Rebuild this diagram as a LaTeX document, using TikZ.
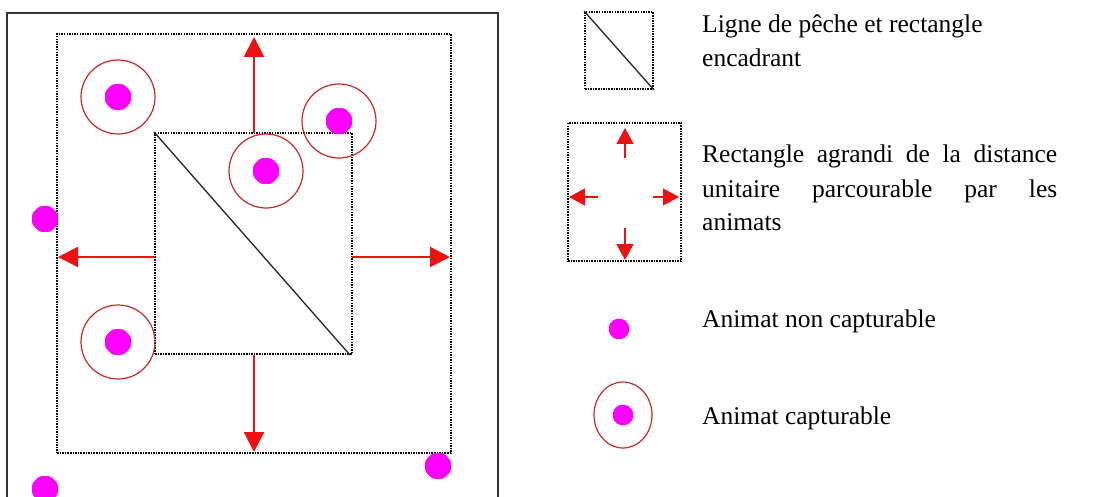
\documentclass[tikz,border=0pt]{standalone}
\usepackage{fontspec}
\setmainfont{Liberation Serif}
\usetikzlibrary{arrows.meta,shapes.geometric}
\definecolor{dotmag}{HTML}{FF00FF}
\definecolor{ringred}{HTML}{C82828}
\definecolor{arrred}{HTML}{EE1111}
\tikzset{
  frame/.style={draw=black!80, line width=1.8pt},
  dotrect/.style={draw=black, line width=1.8pt, dash pattern=on 1.5pt off 1.1pt, inner sep=0pt, fill=none},
  ring/.style={circle, draw=ringred, line width=1.2pt, inner sep=0pt, minimum size=74pt},
  legring/.style={ellipse, draw=ringred, line width=1.2pt, inner sep=0pt, minimum width=58pt, minimum height=66pt},
  animat/.style={regular polygon, regular polygon sides=8, rounded corners=2.5pt, fill=dotmag, inner sep=0pt, minimum size=28pt},
  smallanimat/.style={regular polygon, regular polygon sides=8, rounded corners=2pt, fill=dotmag, inner sep=0pt, minimum size=22pt},
  bigarrow/.style={draw=arrred, line width=2.2pt, -{Triangle[length=20pt,width=20pt]}},
  smallarrow/.style={draw=arrred, line width=1.5pt, -{Triangle[length=16pt,width=17pt]}},
  diag/.style={draw=black!85, line width=1.3pt},
  legtext/.style={anchor=base west, inner sep=0pt, font=\fontsize{25.5}{34}\selectfont}
}
\begin{document}
\begin{tikzpicture}[x=1pt,y=-1pt]
\useasboundingbox (0,0) rectangle (1115,497);
\clip (0,0) rectangle (1115,497);
\fill[white] (0,0) rectangle (1115,497);
% outer frame
\draw[frame] (7,13) rectangle (498,540);
% outer dotted rectangle
\node[dotrect, minimum width=394pt, minimum height=419pt] (outer) at (254,243.5) {};
% inner dotted rectangle
\node[dotrect, minimum width=197pt, minimum height=221pt] (inner) at (253.5,243.5) {};
\draw[diag] (inner.north west) -- ([xshift=-3pt]inner.south east);
% arrows
\coordinate (upS) at (254,133);  \coordinate (upE) at (254,37);
\coordinate (dnS) at (254,355);  \coordinate (dnE) at (254,452);
\coordinate (lfS) at (155,257);  \coordinate (lfE) at (58,257);
\coordinate (rtS) at (352,257);  \coordinate (rtE) at (450,257);
\draw[bigarrow] (upS) -- (upE);
\draw[bigarrow] (dnS) -- (dnE);
\draw[bigarrow] (lfS) -- (lfE);
\draw[bigarrow] (rtS) -- (rtE);
% capturable animats
\node[ring] (r1) at (118,97) {};  \node[animat] (a1) at (118,97) {};
\node[ring] (r2) at (339,121) {}; \node[animat] (a2) at (339,121) {};
\node[ring] (r3) at (266,171) {}; \node[animat] (a3) at (266,171) {};
\node[ring] (r4) at (118,342) {}; \node[animat] (a4) at (118,342) {};
% non capturable animats
\node[animat] (n1) at (45,219) {};
\node[animat] (n2) at (438,466) {};
\node[animat] (n3) at (45,489) {};
% legend 1
\node[dotrect, minimum width=68pt, minimum height=77pt] (lg1) at (619,50.5) {};
\draw[diag] (lg1.north west) -- (lg1.south east);
\node[legtext] (t1a) at (702,33) {Ligne de pêche et rectangle};
\node[legtext] (t1b) at (702,67) {encadrant};
% legend 2
\node[dotrect, minimum width=113pt, minimum height=138pt] (lg2) at (624.5,192) {};
\coordinate (lu1) at (625,158); \coordinate (lu2) at (625,128);
\coordinate (ld1) at (625,228); \coordinate (ld2) at (625,260);
\coordinate (ll1) at (598,197); \coordinate (ll2) at (569,197);
\coordinate (lr1) at (653,197); \coordinate (lr2) at (679,197);
\draw[smallarrow] (lu1) -- (lu2);
\draw[smallarrow] (ld1) -- (ld2);
\draw[smallarrow] (ll1) -- (ll2);
\draw[smallarrow] (lr1) -- (lr2);
\node[legtext] (t2a) at (702,163) {\makebox[355pt][s]{Rectangle agrandi de la distance}};
\node[legtext] (t2b) at (702,197) {\makebox[355pt][s]{unitaire parcourable par les}};
\node[legtext] (t2c) at (702,230) {animats};
% legend 3
\node[smallanimat] (lg3) at (619,329) {};
\node[legtext] (t3) at (702,327) {Animat non capturable};
% legend 4
\node[legring] (lg4r) at (623,415) {};
\node[smallanimat] (lg4) at (623,415) {};
\node[legtext] (t4) at (702,424) {Animat capturable};
\end{tikzpicture}
\end{document}
